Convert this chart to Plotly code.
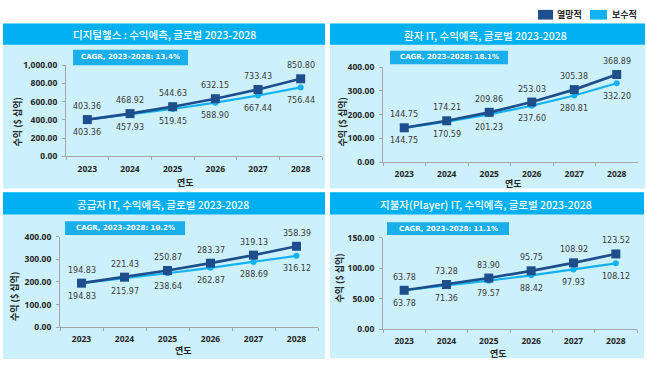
import plotly.graph_objects as go

W, H = 647, 368

years = ["2023", "2024", "2025", "2026", "2027", "2028"]

dh_opt = [403.36, 468.92, 544.63, 632.15, 733.43, 850.80]
dh_con = [403.36, 457.93, 519.45, 588.90, 667.44, 756.44]
pt_opt = [144.75, 174.21, 209.86, 253.03, 305.38, 368.89]
pt_con = [144.75, 170.59, 201.23, 237.60, 280.81, 332.20]
pv_opt = [194.83, 221.43, 250.87, 283.37, 319.13, 358.39]
pv_con = [194.83, 215.97, 238.64, 262.87, 288.69, 316.12]
py_opt = [63.78, 73.28, 83.90, 95.75, 108.92, 123.52]
py_con = [63.78, 71.36, 79.57, 88.42, 97.93, 108.12]

titles = ["디지털헬스 : 수익예측, 글로벌 2023-2028",
          "환자 IT, 수익예측, 글로벌 2023-2028",
          "공급자 IT, 수익예측, 글로벌 2023-2028",
          "지불자(Player) IT, 수익예측, 글로벌 2023-2028"]
cagr = ["CAGR, 2023–2028: 13.4%", "CAGR, 2023–2028: 18.1%",
        "CAGR, 2023–2028: 10.2%", "CAGR, 2023–2028: 11.1%"]
y_max = [1000, 400, 400, 150]
y_dtick = [200, 100, 100, 50]
series_names = ["열망적", "보수적"]
y_title = "수익 ($ 십억)"
x_title = "연도"

DARK = "#1F4E8C"
LIGHT = "#12B2F0"
BAR = "#00B0F0"
BODY = "#CCF1FD"
KR = "Noto Sans CJK KR"
NUM = "DejaVu Sans"
TICK = "Open Sans"


def px(x):
    return x / W


def py(y):
    return 1 - y / H


# layout geometry (pixels)
panels = [
    dict(box=(3, 18, 325, 188), bar=(3, 18, 325, 40), plot=(66, 61, 322, 155),
         cagr=(73, 45, 188, 61), title=(164, 29), ytitle=(17, 120), xtitle=(185, 182)),
    dict(box=(330, 18, 645, 188), bar=(330, 18, 645, 40), plot=(383, 63, 638, 161),
         cagr=(390, 46, 508, 60), title=(486, 30), ytitle=(342, 120), xtitle=(513, 183)),
    dict(box=(3, 192, 325, 364), bar=(3, 192, 325, 215), plot=(60, 238, 318, 331),
         cagr=(65, 222, 185, 236), title=(163, 205), ytitle=(14, 300), xtitle=(183, 355)),
    dict(box=(330, 192, 644, 363), bar=(330, 192, 644, 215), plot=(383, 239, 637, 333),
         cagr=(387, 223, 509, 236), title=(486, 205), ytitle=(340, 281), xtitle=(498, 358)),
]

data = [(dh_opt, dh_con), (pt_opt, pt_con), (pv_opt, pv_con), (py_opt, py_con)]

fig = go.Figure()
shapes = []
annotations = []
layout_axes = {}

for i, (p, (opt, con)) in enumerate(zip(panels, data)):
    n = i + 1
    xa = "x" if n == 1 else f"x{n}"
    ya = "y" if n == 1 else f"y{n}"
    x0, y0, x1, y1 = p["box"]
    shapes.append(dict(type="rect", xref="paper", yref="paper", x0=px(x0), x1=px(x1),
                       y0=py(y1), y1=py(y0), fillcolor=BODY, line=dict(width=0), layer="below"))
    x0, y0, x1, y1 = p["bar"]
    shapes.append(dict(type="rect", xref="paper", yref="paper", x0=px(x0), x1=px(x1),
                       y0=py(y1), y1=py(y0), fillcolor=BAR, line=dict(width=0), layer="below"))
    x0, y0, x1, y1 = p["cagr"]
    shapes.append(dict(type="rect", xref="paper", yref="paper", x0=px(x0), x1=px(x1),
                       y0=py(y1), y1=py(y0), fillcolor="#1AAEEA", line=dict(width=0), layer="below"))
    annotations.append(dict(text=f"<b>{cagr[i]}</b>", xref="paper", yref="paper",
                            x=px((x0 + x1) / 2), y=py((y0 + y1) / 2), showarrow=False,
                            font=dict(family=NUM, size=7, color="white"),
                            xanchor="center", yanchor="middle"))
    tx, ty = p["title"]
    annotations.append(dict(text=titles[i], xref="paper", yref="paper", x=px(tx), y=py(ty),
                            showarrow=False, font=dict(family=KR, size=10.5, color="white", weight=500),
                            xanchor="center", yanchor="middle"))
    tx, ty = p["ytitle"]
    annotations.append(dict(text=f"<b>{y_title}</b>", xref="paper", yref="paper", x=px(tx), y=py(ty),
                            showarrow=False, textangle=-90,
                            font=dict(family=KR, size=9, color="#262626"),
                            xanchor="center", yanchor="middle"))
    tx, ty = p["xtitle"]
    annotations.append(dict(text=f"<b>{x_title}</b>", xref="paper", yref="paper", x=px(tx), y=py(ty),
                            showarrow=False, font=dict(family=KR, size=9, color="#262626"),
                            xanchor="center", yanchor="middle"))

    fig.add_trace(go.Scatter(
        x=years, y=con, mode="lines+markers", name=series_names[1],
        line=dict(color=LIGHT, width=2.2), marker=dict(symbol="circle", size=6, color=LIGHT),
        xaxis=xa, yaxis=ya, showlegend=False, cliponaxis=False))
    fig.add_trace(go.Scatter(
        x=years, y=opt, mode="lines+markers", name=series_names[0],
        line=dict(color=DARK, width=2.7), marker=dict(symbol="square", size=9, color=DARK),
        xaxis=xa, yaxis=ya, showlegend=False, cliponaxis=False))

    # value labels, anchored on the data points through the axes (category index)
    for j, (vo, vc) in enumerate(zip(opt, con)):
        annotations.append(dict(text=f"{vo:.2f}", x=j, y=vo, xref=xa, yref=ya, showarrow=False,
                                yshift=13, xanchor="center", yanchor="middle",
                                font=dict(family=NUM, size=8, color="#3a3a3a")))
        annotations.append(dict(text=f"{vc:.2f}", x=j, y=vc, xref=xa, yref=ya, showarrow=False,
                                yshift=-13, xanchor="center", yanchor="middle",
                                font=dict(family=NUM, size=8, color="#3a3a3a")))

    X0, Y0, X1, Y1 = p["plot"]
    axis_common = dict(showline=True, linecolor="#A6A6A6", linewidth=1, showgrid=False,
                       zeroline=False, ticks="outside", tickcolor="#A6A6A6",
                       tickfont=dict(family=TICK, size=8.5, color="#262626", weight="bold"))
    layout_axes["xaxis" if n == 1 else f"xaxis{n}"] = dict(
        domain=[px(X0), px(X1)], anchor=ya, type="category", tickson="boundaries",
        ticklen=3, range=[-0.5, 5.5], ticklabelstandoff=4, **axis_common)
    layout_axes["yaxis" if n == 1 else f"yaxis{n}"] = dict(
        domain=[py(Y1), py(Y0)], anchor=xa, range=[0, y_max[i]], dtick=y_dtick[i],
        tickformat=",.2f", ticklen=3, ticklabelstandoff=3, **axis_common)

# legend (top right)
leg = [((538, 4, 553, 14), DARK, series_names[0], 569), ((590, 4, 607, 14), LIGHT, series_names[1], 624)]
for (x0, y0, x1, y1), col, name, tx in leg:
    shapes.append(dict(type="rect", xref="paper", yref="paper", x0=px(x0), x1=px(x1),
                       y0=py(y1), y1=py(y0), fillcolor=col, line=dict(width=0)))
    annotations.append(dict(text=f"<b>{name}</b>", xref="paper", yref="paper", x=px(tx), y=py(9),
                            showarrow=False, font=dict(family=KR, size=9, color="#262626"),
                            xanchor="center", yanchor="middle"))

fig.update_layout(width=W, height=H, margin=dict(l=0, r=0, t=0, b=0),
                  paper_bgcolor="white", plot_bgcolor="rgba(0,0,0,0)",
                  shapes=shapes, annotations=annotations, showlegend=False, **layout_axes)

fig.write_html("out.html", config={"displayModeBar": False},
               post_script="document.body.style.margin='0';document.body.style.overflow='hidden';")
